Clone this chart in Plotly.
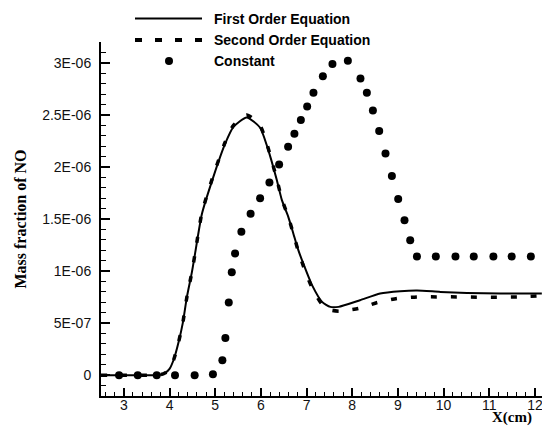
import plotly.graph_objects as go

# ---- data (mass fraction values in units of 1E-06) ----
x_first = [2.5, 3.0, 3.5, 3.8, 3.9, 4.0, 4.1, 4.2, 4.29, 4.38, 4.49, 4.56, 4.71, 4.96, 5.22, 5.40,
           5.69, 5.98, 6.14, 6.35, 6.46, 6.60, 6.71, 6.82, 6.97, 7.12, 7.34, 7.52, 7.70, 8.17,
           8.61, 9.05, 9.42, 9.93, 10.51, 11.24, 12.15]
y_first = [0, 0, 0, 0.005, 0.02, 0.06, 0.16, 0.32, 0.50, 0.75, 0.99, 1.17, 1.55, 1.905, 2.226, 2.385,
           2.476, 2.379, 2.193, 1.873, 1.681, 1.521, 1.361, 1.201, 1.025, 0.865, 0.704, 0.656, 0.656, 0.720,
           0.785, 0.807, 0.814, 0.800, 0.790, 0.785, 0.785]

x_second = [2.5, 3.0, 3.5, 3.8, 3.9, 4.0, 4.1, 4.2, 4.29, 4.38, 4.49, 4.56, 4.71, 4.96, 5.22, 5.40,
            5.69, 5.98, 6.14, 6.35, 6.46, 6.60, 6.71, 6.82, 6.97, 7.12, 7.34, 7.52, 7.72, 8.14,
            8.55, 8.98, 9.42, 9.85, 10.29, 10.73, 11.17, 11.61, 12.15]
y_second = [0, 0, 0, 0.005, 0.02, 0.06, 0.16, 0.32, 0.50, 0.75, 0.99, 1.17, 1.56, 1.92, 2.24, 2.40,
            2.500, 2.400, 2.21, 1.88, 1.69, 1.52, 1.36, 1.19, 1.00, 0.84, 0.68, 0.625, 0.615, 0.641,
            0.698, 0.737, 0.752, 0.752, 0.752, 0.749, 0.749, 0.752, 0.762]

x_const = [2.895, 3.305, 3.72, 4.12, 4.55, 4.95, 5.157, 5.223, 5.297, 5.363, 5.435, 5.573, 5.775,
           5.983, 6.187, 6.399, 6.596, 6.734, 6.875, 7.013, 7.151, 7.357, 7.567, 7.904, 8.18,
           8.32, 8.452, 8.59, 8.728, 8.868, 9.006, 9.144, 9.269, 9.416, 9.83, 10.26, 10.66,
           11.09, 11.49, 11.91]
y_const = [0, 0, 0, 0, 0, 0.01, 0.144, 0.358, 0.698, 0.989, 1.169, 1.377, 1.551,
           1.70, 1.851, 2.024, 2.193, 2.318, 2.450, 2.581, 2.712, 2.872, 2.988, 3.019, 2.850,
           2.712, 2.543, 2.344, 2.130, 1.912, 1.691, 1.489, 1.297, 1.139, 1.139, 1.139, 1.139,
           1.139, 1.139, 1.139]

names = ["First Order Equation", "Second Order Equation", "Constant"]
y_tickvals = [0, 0.5, 1.0, 1.5, 2.0, 2.5, 3.0]
y_ticktext = ["0", "5E-07", "1E-06", "1.5E-06", "2E-06", "2.5E-06", "3E-06"]
x_tickvals = [3, 4, 5, 6, 7, 8, 9, 10, 11, 12]
x_ticktext = ["3", "4", "5", "6", "7", "8", "9", "10", "11", "12"]

scale = 1e-6

# plot-area geometry (pixels) used to place the key in paper coordinates
L, R, T, B = 101, 542, 42, 396
W, H = R - L, B - T


def px(xp):
    return (xp - L) / W


def py(yp):
    return (B - yp) / H


solid_style = dict(color="black", width=2)
dash_style = dict(color="black", width=3.5, dash="6px,14px")

fig = go.Figure()
fig.add_trace(go.Scatter(x=x_first, y=[v * scale for v in y_first], mode="lines",
                         name=names[0], showlegend=False,
                         line=dict(**solid_style, shape="spline", smoothing=0.6)))
fig.add_trace(go.Scatter(x=x_second, y=[v * scale for v in y_second], mode="lines",
                         name=names[1], showlegend=False,
                         line=dict(**dash_style, shape="spline", smoothing=0.6)))
fig.add_trace(go.Scatter(x=x_const, y=[v * scale for v in y_const], mode="markers",
                         name=names[2], showlegend=False, marker=dict(color="black", size=8)))

# key (legend) drawn at the top of the figure
key_rows = [18.5, 40, 61]
key_font = dict(family="Liberation Sans, Arial, sans-serif", size=14, color="black", weight="bold")
shapes = [
    dict(type="line", xref="paper", yref="paper", x0=px(135), x1=px(202), y0=py(key_rows[0]),
         y1=py(key_rows[0]), line=dict(color="black", width=2)),
    dict(type="line", xref="paper", yref="paper", x0=px(135), x1=px(202), y0=py(key_rows[1]),
         y1=py(key_rows[1]), line=dict(color="black", width=4, dash="7px,13px")),
    dict(type="circle", xref="paper", yref="paper", xsizemode="pixel", ysizemode="pixel",
         xanchor=px(169), yanchor=py(key_rows[2]), x0=-4, x1=4, y0=-4, y1=4,
         fillcolor="black", line=dict(color="black", width=0)),
]
annotations = [
    dict(text=names[i], xref="paper", yref="paper", x=px(212), y=py(key_rows[i]),
         xanchor="left", yanchor="middle", showarrow=False, font=key_font)
    for i in range(3)
]
annotations.append(dict(text="X(cm)", xref="paper", yref="paper", x=px(490),
                        y=py(417), xanchor="left", yanchor="middle", showarrow=False,
                        font=dict(family="Liberation Serif, Times New Roman, serif", size=15,
                                  color="black", weight="bold")))

tickfont = dict(family="Liberation Sans, Arial, sans-serif", size=14, color="#111")

fig.update_layout(
    width=542, height=426,
    margin=dict(l=L, r=0, t=T, b=426 - B),
    paper_bgcolor="white", plot_bgcolor="white",
    showlegend=False,
    shapes=shapes,
    annotations=annotations,
    xaxis=dict(range=[2.5, 12.154], showline=True, linecolor="black", linewidth=2,
               ticks="inside", ticklen=8, tickwidth=1.5, tickcolor="black",
               tickvals=x_tickvals, ticktext=x_ticktext, tickfont=tickfont,
               ticklabeloverflow="allow",
               minor=dict(dtick=0.2, tick0=2.6, ticks="inside", ticklen=4, tickwidth=1, tickcolor="black"),
               showgrid=False, zeroline=False, ticklabelstandoff=-5),
    yaxis=dict(range=[-0.2e-6, 3.2e-6], showline=True, linecolor="black", linewidth=2,
               ticks="inside", ticklen=9, tickwidth=1.5, tickcolor="black",
               tickvals=[v * scale for v in y_tickvals], ticktext=y_ticktext, tickfont=tickfont,
               minor=dict(dtick=0.1e-6, tick0=0, ticks="inside", ticklen=5, tickwidth=1, tickcolor="black"),
               showgrid=False, zeroline=False, ticklabelstandoff=5,
               title=dict(text="Mass fraction of NO", standoff=12,
                          font=dict(family="Liberation Serif, Times New Roman, serif", size=16,
                                    color="black", weight="bold"))),
)

fig.write_html("out.html")
